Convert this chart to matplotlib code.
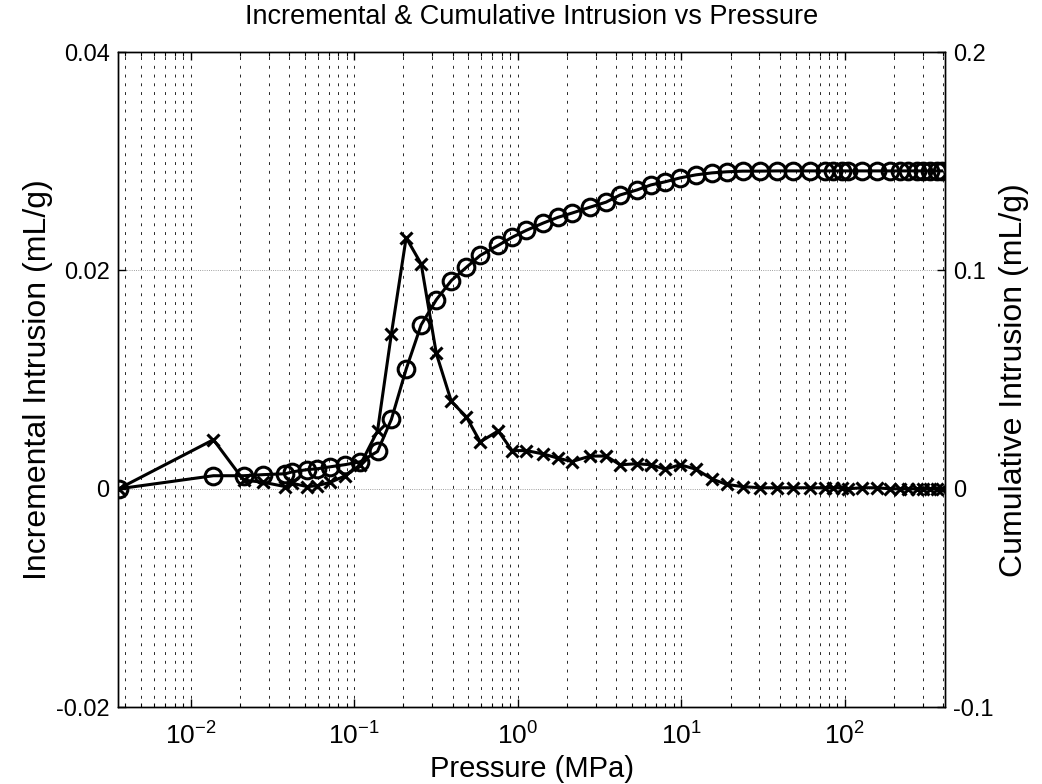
import matplotlib
matplotlib.use('Agg')
import matplotlib.pyplot as plt
from matplotlib.ticker import LogLocator, NullFormatter, FixedLocator
import numpy as np

plt.rcParams['font.family'] = ['Liberation Sans', 'DejaVu Sans']
plt.rcParams['mathtext.fontset'] = 'custom'
plt.rcParams['mathtext.rm'] = 'Liberation Sans'
plt.rcParams['mathtext.default'] = 'rm'
plt.rcParams['axes.unicode_minus'] = False

# pressure (MPa)
pressure = [0.00363, 0.0138, 0.0211, 0.0279, 0.0380, 0.0420, 0.0518, 0.0597,
            0.0717, 0.0885, 0.109, 0.139, 0.169, 0.208, 0.257, 0.318, 0.393,
            0.485, 0.590, 0.760, 0.925, 1.13, 1.43, 1.77, 2.15, 2.77, 3.47,
            4.23, 5.37, 6.53, 7.96, 9.83, 12.3, 15.4, 19.0, 23.8, 30.3, 38.5,
            48.1, 61.1, 75.5, 84.5, 95.9, 104, 127, 157, 188, 217, 243, 275,
            299, 330, 365, 391]

# incremental intrusion (mL/g)
incremental = [0.0, 0.0045, 0.0008, 0.0006, 0.0002, 0.0005, 0.0002, 0.0003,
               0.0006, 0.0012, 0.0022, 0.0053, 0.0142, 0.0230, 0.0206, 0.0124,
               0.0080, 0.0066, 0.0043, 0.0053, 0.0035, 0.0035, 0.0032, 0.0028,
               0.0025, 0.0030, 0.0030, 0.0022, 0.0023, 0.0022, 0.0018, 0.0022,
               0.0018, 0.0009, 0.0004, 0.0002, 0.0001, 0.0001, 0.0001, 0.0001,
               0.0001, 0.0001, 0.0001, 0.0, 0.0001, 0.0001, 0.0, 0.0, 0.0,
               0.0, 0.0, 0.0, 0.0, 0.0]

# cumulative intrusion (mL/g)
cumulative = [0.0, 0.0060, 0.0060, 0.0065, 0.0069, 0.0078, 0.0088, 0.0092,
              0.0101, 0.0111, 0.0124, 0.0171, 0.0318, 0.0548, 0.0751, 0.0866,
              0.0954, 0.1014, 0.1069, 0.1115, 0.1152, 0.1184, 0.1217, 0.1244,
              0.1263, 0.1290, 0.1313, 0.1346, 0.1369, 0.1392, 0.1406, 0.1424,
              0.1438, 0.1447, 0.1452, 0.1455, 0.1455, 0.1456, 0.1456, 0.1456,
              0.1456, 0.1456, 0.1456, 0.1456, 0.1456, 0.1456, 0.1456, 0.1456,
              0.1456, 0.1456, 0.1456, 0.1456, 0.1456, 0.1456]

fig = plt.figure(figsize=(10.42, 7.84), dpi=100)
ax = fig.add_axes([0.1132, 0.098, 0.7938, 0.8355])
ax2 = ax.twinx()

ax.plot(pressure, incremental, color='black', lw=2.2, marker='x', ms=9,
        mew=2.2, zorder=3)
ax2.plot(pressure, cumulative, color='black', lw=2.2, marker='o', ms=12,
         mfc='none', mew=2.2, zorder=3)

ax.set_xscale('log')
ax.set_xlim(0.0036, 410)
ax.set_ylim(-0.02, 0.04)
ax2.set_ylim(-0.1, 0.2)
ax.set_yticks([-0.02, 0, 0.02, 0.04])
ax.set_yticklabels(['-0.02', '0', '0.02', '0.04'])
ax2.set_yticks([-0.1, 0, 0.1, 0.2])
ax2.set_yticklabels(['-0.1', '0', '0.1', '0.2'])

xt = [1e-2, 1e-1, 1e0, 1e1, 1e2]
ax.xaxis.set_major_locator(FixedLocator(xt))
ax.set_xticklabels([r'$10^{-2}$', r'$10^{-1}$', r'$10^{0}$', r'$10^{1}$',
                    r'$10^{2}$'])
ax.xaxis.set_minor_locator(LogLocator(base=10, subs=np.arange(2, 10), numticks=20))
ax.xaxis.set_minor_formatter(NullFormatter())

# MATLAB-like grid
ax.grid(True, which='both', axis='x', color='black', lw=0.7,
        ls=(0, (3, 6)), alpha=0.85)
ax.grid(True, which='major', axis='y', color='gray', lw=0.6, ls=':')

for a in (ax, ax2):
    a.tick_params(direction='in', length=6, width=1, labelsize=17,
                  top=True, pad=6)
    a.tick_params(which='minor', direction='in', length=3, width=0.8, top=True)
    for s in a.spines.values():
        s.set_linewidth(1.0)
ax.tick_params(axis='x', labelsize=19, pad=11)
ax2.tick_params(right=True, left=False)

ax.set_xlabel('Pressure (MPa)', fontsize=21, labelpad=4)
ax.set_ylabel('Incremental Intrusion (mL/g)', fontsize=23, labelpad=2)
ax2.set_ylabel('Cumulative Intrusion (mL/g)', fontsize=23, labelpad=4)
ax.set_title('Incremental & Cumulative Intrusion vs Pressure', fontsize=19.5, pad=20)

fig.savefig('out.png', dpi=100)
